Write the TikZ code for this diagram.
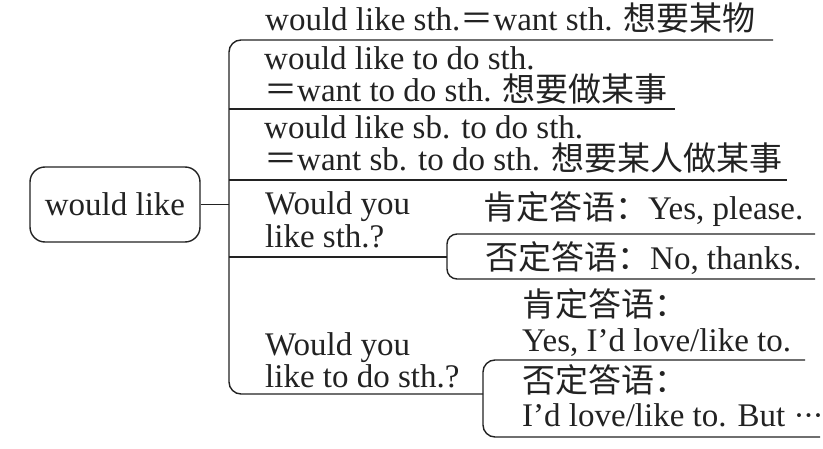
\documentclass[tikz,border=0pt]{standalone}
\usepackage{fontspec}
\setmainfont{Liberation Serif}
\newfontfamily\cjk{Noto Sans CJK SC}
\definecolor{ink}{HTML}{222222}
\newcommand{\twolines}[3]{\vtop{\baselineskip=#1\lineskiplimit=-100pt\relax\hbox{#2}\hbox{#3}}}
\begin{document}
\begin{tikzpicture}[x=1pt,y=-1pt,
  line/.style={draw=ink,line width=1.4pt},
  txt/.style={anchor=base west,inner sep=0pt,text=ink,font=\fontsize{33}{33}\selectfont},
  rootbox/.style={draw=ink,line width=1.4pt,rounded corners=15pt,minimum width=170pt,minimum height=75pt,inner sep=0pt,text=ink,font=\fontsize{33}{33}\selectfont}]
\useasboundingbox (0,0) rectangle (823,449);
% root
\node[rootbox] (root) at (115,204.5) {would like};
% spine coordinates
\coordinate (spT) at (229,40);
\coordinate (spB) at (229,394);
\coordinate (e1) at (773,40);
\coordinate (e2) at (675,109);
\coordinate (e3) at (787,180);
\coordinate (e4) at (447,257);
\coordinate (e5) at (483,394);
\draw[line] (root.east) -- (root.east -| spT);
\draw[line,rounded corners=12pt] (e1) -- (spT) -- (spB) -- (e5);
\draw[line] (e2 -| spT) -- (e2);
\draw[line] (e3 -| spT) -- (e3);
\draw[line] (e4 -| spT) -- (e4);
% bracket 1
\coordinate (b1t) at (447,234);
\coordinate (b1b) at (447,279);
\coordinate (b1te) at (815,234);
\coordinate (b1be) at (815,279);
\draw[line,rounded corners=10pt] (b1te) -- (b1t) -- (b1b) -- (b1be);
% bracket 2
\coordinate (b2t) at (483,360);
\coordinate (b2b) at (483,437);
\coordinate (b2te) at (805,360);
\coordinate (b2be) at (820,437);
\draw[line,rounded corners=12pt] (b2te) -- (b2t) -- (b2b) -- (b2be);
% texts
\node[txt] (t1) at (265,31) {would like sth.{\cjk ＝}want sth. {\cjk 想要某物}};
\node[txt] (t2) at (264,70) {\twolines{32pt}{would like to do sth.}{{\cjk ＝}want to do sth. {\cjk 想要做某事}}};
\node[txt] (t3) at (264,139) {\twolines{32pt}{would like sb. to do sth.}{{\cjk ＝}want sb. to do sth. {\cjk 想要某人做某事}}};
\node[txt] (t4) at (265,215) {\twolines{33pt}{Would you}{like sth.?}};
\node[txt] (t5) at (483,220) {{\cjk 肯定答语：}Yes, please.};
\node[txt] (t6) at (485,270) {{\cjk 否定答语：}No, thanks.};
\node[txt] (t7) at (265,356) {\twolines{32pt}{Would you}{like to do sth.?}};
\node[txt] (t8) at (522,317) {\twolines{35pt}{{\cjk 肯定答语：}}{Yes, I’d love/like to.}};
\node[txt] (t9) at (522,392) {\twolines{35pt}{{\cjk 否定答语：}}{I’d love/like to. But\ ·\kern-1.5pt·\kern-1.5pt·}};
\end{tikzpicture}
\end{document}
